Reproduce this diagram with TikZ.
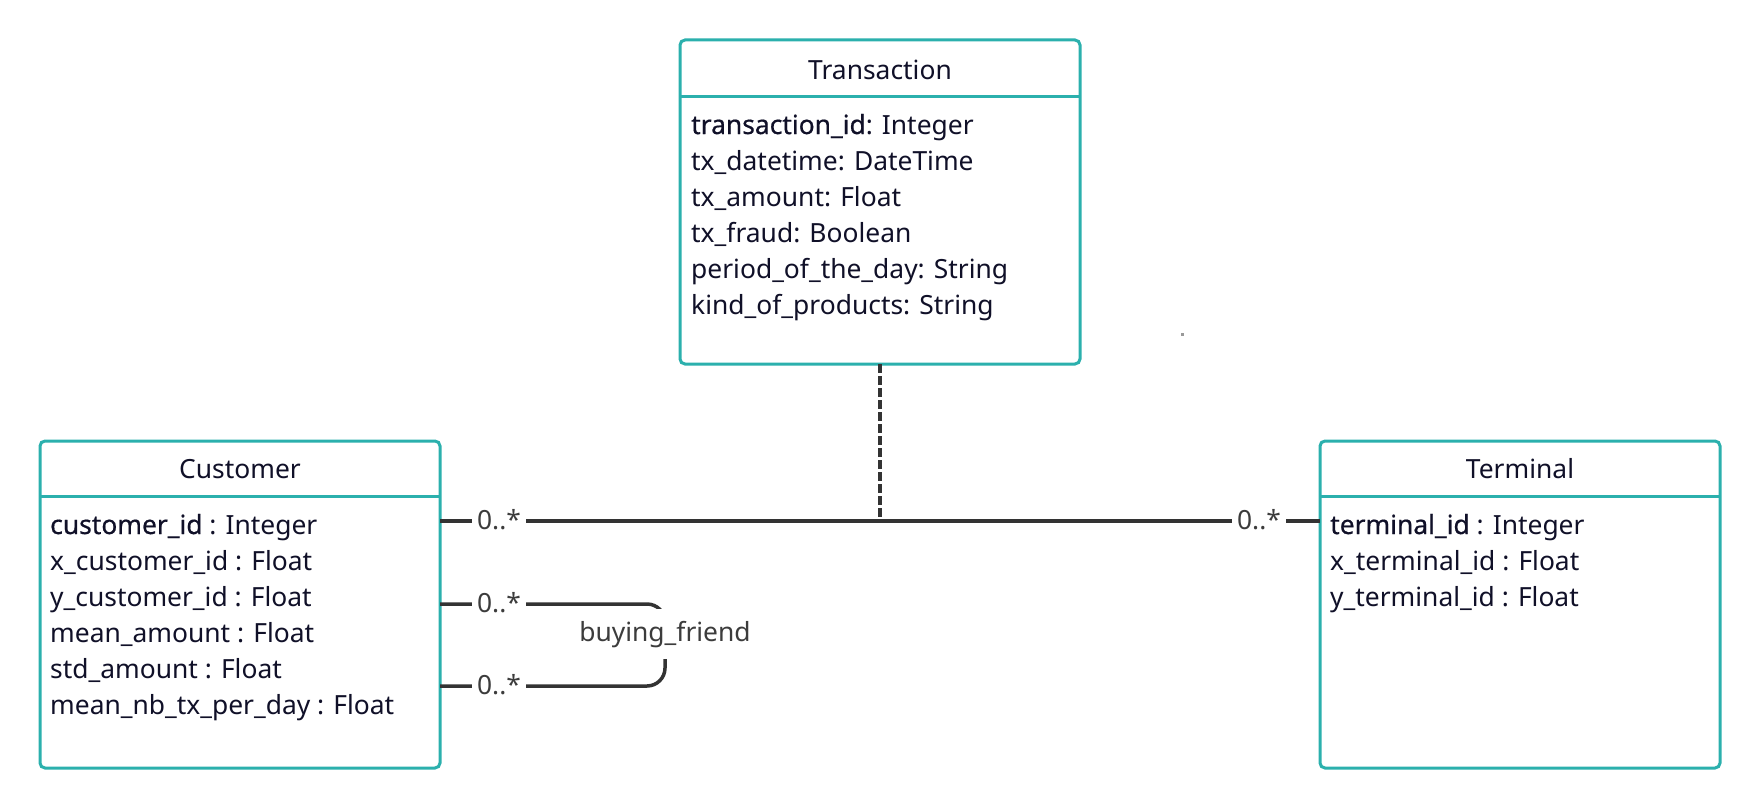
\documentclass[tikz,border=0pt]{standalone}
\usepackage{fontspec}
\setmainfont{Noto Sans}
\newfontfamily\keyfont[FakeBold=0.6]{Noto Sans}
\usetikzlibrary{calc}
\definecolor{teal2}{RGB}{43,176,173}
\definecolor{ink}{RGB}{16,16,40}
\definecolor{linec}{RGB}{51,51,51}
\definecolor{labc}{RGB}{60,60,60}
\begin{document}
\begin{tikzpicture}[x=1pt,y=-1pt,
 classbox/.style={draw=teal2, line width=3pt, rounded corners=5pt, fill=white, minimum width=400pt, inner sep=0pt, outer sep=0pt},
 divider/.style={draw=teal2, line width=3pt},
 titletext/.style={font=\fontsize{26.4}{30}\selectfont, text=ink, inner sep=0pt, text height=20pt, text depth=6pt},
 attr/.style={font=\fontsize{26.4}{30}\selectfont, text=ink, anchor=west, inner sep=0pt, text height=20pt, text depth=6pt},
 assoc/.style={draw=linec, line width=3.5pt},
 dashedlink/.style={draw=linec, line width=3.5pt, dash pattern=on 9pt off 3pt},
 mult/.style={font=\fontsize{26.4}{30}\selectfont, text=labc, fill=white, inner xsep=5pt, inner ysep=2pt, text height=20pt, text depth=6pt},
 rolelabel/.style={font=\fontsize{26.4}{30}\selectfont, text=labc, fill=white, inner xsep=4pt, inner ysep=12pt, text height=20pt, text depth=6pt},
]
\useasboundingbox (0,0) rectangle (1760,808);
\fill[white] (0,0) rectangle (1760,808);

% class boxes
\node[classbox, minimum height=324pt] (trans) at (880,202) {};
\node[classbox, minimum height=327pt] (cust) at (240,604.5) {};
\node[classbox, minimum height=327pt] (term) at (1520,604.5) {};

\draw[divider] (trans.west |- 0,96) -- (trans.east |- 0,96);
\draw[divider] (cust.west |- 0,496) -- (cust.east |- 0,496);
\draw[divider] (term.west |- 0,496) -- (term.east |- 0,496);

% titles
\node[titletext] (transT) at (880,72) {Transaction};
\node[titletext] (custT) at (240,471) {Customer};
\node[titletext] (termT) at (1520,471) {Terminal};

% Transaction attributes
\node[attr] (t1) at (691,127) {{\keyfont transaction\_id}: Integer};
\node[attr] (t2) at (691,163) {tx\_datetime: DateTime};
\node[attr] (t3) at (691,199) {tx\_amount: Float};
\node[attr] (t4) at (691,235) {tx\_fraud: Boolean};
\node[attr] (t5) at (691,271) {period\_of\_the\_day: String};
\node[attr] (t6) at (691,307) {kind\_of\_products: String};

% Customer attributes
\node[attr] (c1) at (50,527) {{\keyfont customer\_id} : Integer};
\node[attr] (c2) at (50,563) {x\_customer\_id : Float};
\node[attr] (c3) at (50,599) {y\_customer\_id : Float};
\node[attr] (c4) at (50,635) {mean\_amount : Float};
\node[attr] (c5) at (50,671) {std\_amount : Float};
\node[attr] (c6) at (50,707) {mean\_nb\_tx\_per\_day : Float};

% Terminal attributes
\node[attr] (r1) at (1330,527) {{\keyfont terminal\_id} : Integer};
\node[attr] (r2) at (1330,563) {x\_terminal\_id : Float};
\node[attr] (r3) at (1330,599) {y\_terminal\_id : Float};

% association Customer -- Terminal with association class
\coordinate (mid) at (880,521);
\draw[assoc] (cust.east |- mid) -- (term.west |- mid);
\draw[dashedlink] (trans.south) -- (mid);
\node[mult] (m1) at (499,522) {0..*};
\node[mult] (m2) at (1259,522) {0..*};

% self association buying_friend
\coordinate (sa) at (665,604);
\coordinate (sb) at (665,686);
\draw[assoc, rounded corners=18pt] (cust.east |- sa) -- (sa) -- (sb) -- (cust.east |- sb);
\node[mult] (m3) at (499,605) {0..*};
\node[mult] (m4) at (499,687) {0..*};
\node[rolelabel] (bf) at (665,634) {buying\_friend};

% stray dot
\fill[gray!80] (1180.5,332.5) rectangle ++(3,3);
\end{tikzpicture}
\end{document}
